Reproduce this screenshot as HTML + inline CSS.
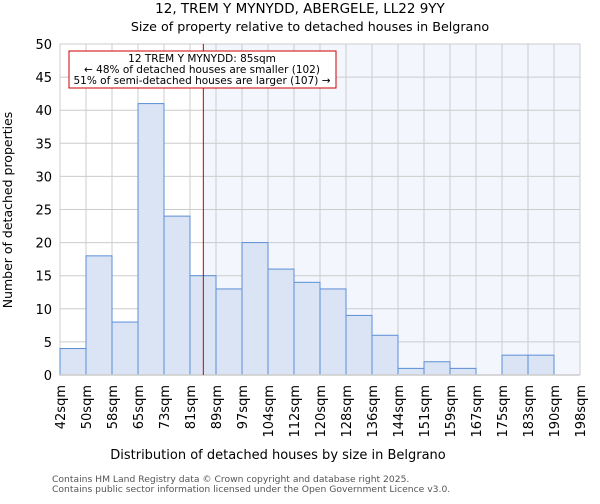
<!DOCTYPE html>
<html><head><meta charset="utf-8"><style>
body{margin:0;background:#fff;font-family:"DejaVu Sans","Liberation Sans",sans-serif;}
</style></head><body>
<svg id="c" width="600" height="500" xmlns="http://www.w3.org/2000/svg" font-family="DejaVu Sans, Liberation Sans, sans-serif">
<text x="300" y="13" text-anchor="middle" font-size="13.5">12, TREM Y MYNYDD, ABERGELE, LL22 9YY</text>
<text x="310" y="31" text-anchor="middle" font-size="12.7">Size of property relative to detached houses in Belgrano</text>
<g id="plot"></g>
<text x="278" y="459" text-anchor="middle" font-size="13">Distribution of detached houses by size in Belgrano</text>
<text transform="translate(12,210) rotate(-90)" text-anchor="middle" font-size="12.5">Number of detached properties</text>
<text x="52" y="482" font-size="9.2" fill="#555">Contains HM Land Registry data © Crown copyright and database right 2025.</text>
<text x="52" y="492" font-size="9.2" fill="#555">Contains public sector information licensed under the Open Government Licence v3.0.</text>
</svg>
<script>
const categories=["42sqm","50sqm","58sqm","65sqm","73sqm","81sqm","89sqm","97sqm","104sqm","112sqm","120sqm","128sqm","136sqm","144sqm","151sqm","159sqm","167sqm","175sqm","183sqm","190sqm","198sqm"];
const counts=[4,18,8,41,24,15,13,20,16,14,13,9,6,1,2,1,0,3,3,0];
const yTicks=[0,5,10,15,20,25,30,35,40,45,50];
const binStart=42, binWidth=7.8, marker=85;
const NS="http://www.w3.org/2000/svg";
const g=document.getElementById('plot');
const x0=60,x1=580,yb=375,yt=44,yMax=50;
const bw=(x1-x0)/counts.length;
const X=i=>x0+i*bw;
const Y=v=>yb-(v/yMax)*(yb-yt);
const Xv=v=>x0+(v-binStart)/binWidth*bw;
function mk(t,a){const e=document.createElementNS(NS,t);for(const k in a)e.setAttribute(k,a[k]);g.appendChild(e);return e;}
const mx=Xv(marker);
let r=mk('rect',{x:mx,y:yt,width:x1-mx,height:yb-yt,fill:'#f3f6fd'});


yTicks.forEach(t=>{
 let l=mk('line',{x1:x0,x2:x1,y1:Y(t),y2:Y(t),stroke:'#ccc','stroke-width':1});
 
 
 let tx=mk('text',{x:x0-8,y:Y(t)+5,'text-anchor':'end','font-size':13});
 tx.textContent=t;
 
 
});
categories.forEach((c,i)=>{
 let l=mk('line',{x1:X(i),x2:X(i),y1:yt,y2:yb,stroke:'#ccc','stroke-width':1});
 
 
 let tx=mk('text',{transform:`translate(${X(i)+5},385) rotate(-90)`,'text-anchor':'end','font-size':13});
 tx.textContent=c;
 
 
});
counts.forEach((v,i)=>{
 if(v<=0)return;
 let b=mk('rect',{x:X(i),y:Y(v),width:bw,height:yb-Y(v),fill:'#dae4f4',stroke:'#5b8fd6','stroke-width':1});
 
 
});
let ax=mk('line',{x1:x0,x2:x1,y1:yb,y2:yb,stroke:'#ccc','stroke-width':1.5});


let ml=mk('line',{x1:mx,x2:mx,y1:yt,y2:yb,stroke:'#c00','stroke-width':1});


let box=mk('rect',{x:69,y:51,width:267,height:37,fill:'#fff',stroke:'#c00','stroke-width':1});


["12 TREM Y MYNYDD: 85sqm","← 48% of detached houses are smaller (102)","51% of semi-detached houses are larger (107) →"].forEach((s,k)=>{
 let t=mk('text',{x:202,y:62+k*11,'text-anchor':'middle','font-size':10.5});
 t.textContent=s;
 
 
});
</script>
</body></html>
